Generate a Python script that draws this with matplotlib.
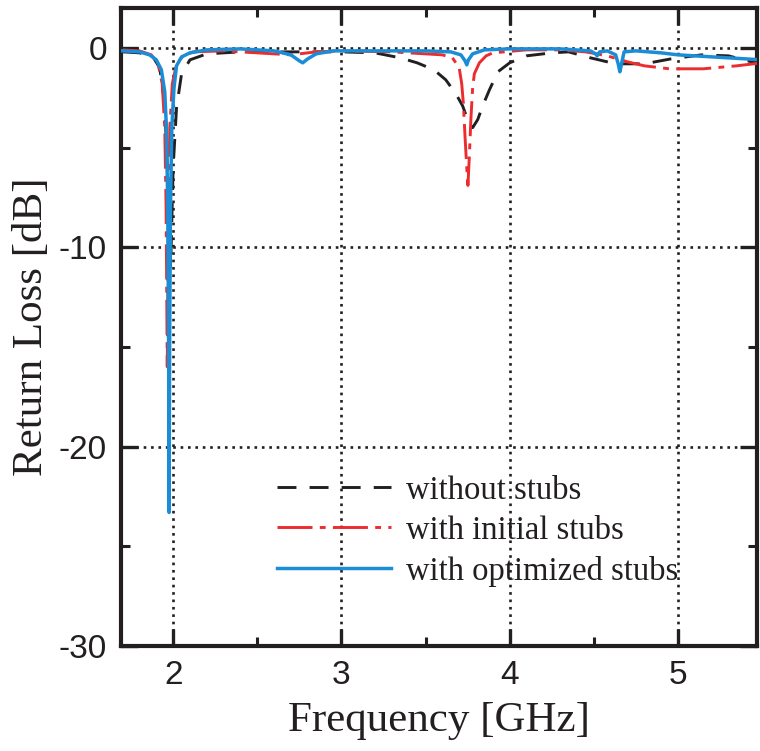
import matplotlib
matplotlib.use("Agg")
import matplotlib.pyplot as plt
from matplotlib.ticker import MultipleLocator

# Return loss (dB) versus frequency (GHz) for the three filter variants
freq_plain = [1.70, 1.80, 1.88, 1.92, 1.95, 1.97, 1.985, 2.00, 2.02, 2.05, 2.10, 2.20,
              2.40, 2.60, 2.80, 3.00, 3.20, 3.35, 3.45, 3.55, 3.62, 3.68, 3.72, 3.75,
              3.78, 3.81, 3.84, 3.88, 3.93, 4.00, 4.10, 4.25, 4.35, 4.48, 4.63, 4.80,
              4.96, 5.14, 5.30, 5.46, 5.50]
rl_plain = [-0.2, -0.25, -0.45, -1.0, -2.8, -7.0, -11.0, -6.0, -3.0, -1.3, -0.6, -0.3,
            -0.2, -0.2, -0.2, -0.2, -0.25, -0.5, -0.75, -1.1, -1.6, -2.3, -2.9, -3.6,
            -4.0, -3.6, -2.9, -2.1, -1.2, -0.75, -0.4, -0.25, -0.2, -0.5, -0.8, -0.8,
            -0.55, -0.35, -0.4, -0.75, -0.8]

freq_initial = [1.70, 1.80, 1.87, 1.91, 1.935, 1.95, 1.958, 1.965, 1.972, 1.98, 1.995,
                2.02, 2.06, 2.12, 2.30, 2.50, 2.70, 2.85, 3.00, 3.30, 3.50, 3.60, 3.66,
                3.70, 3.715, 3.725, 3.735, 3.745, 3.752, 3.76, 3.77, 3.78, 3.79, 3.82,
                3.86, 3.90, 4.10, 4.30, 4.45, 4.52, 4.60, 4.70, 4.80, 4.95, 5.15, 5.35,
                5.50]
rl_initial = [-0.1, -0.15, -0.35, -0.8, -1.8, -4.0, -8.0, -16.0, -8.0, -4.0, -1.8,
              -0.8, -0.4, -0.2, -0.15, -0.25, -0.35, -0.2, -0.15, -0.2, -0.3, -0.35, -0.5,
              -1.0, -1.8, -2.8, -4.5, -6.0, -6.9, -5.5, -3.5, -2.0, -1.3, -0.75,
              -0.4, -0.25, -0.1, -0.1, -0.2, -0.3, -0.45, -0.7, -0.9, -1.05, -1.05, -0.9,
              -0.75]

freq_optimized = [1.70, 1.80, 1.86, 1.90, 1.93, 1.95, 1.96, 1.968, 1.973, 1.976, 1.979,
                  1.984, 1.992, 2.005, 2.02, 2.05, 2.10, 2.20, 2.40, 2.60, 2.70, 2.75,
                  2.77, 2.80, 2.85, 2.95, 3.20, 3.50, 3.65, 3.71, 3.735, 3.745, 3.755,
                  3.78, 3.85, 4.00, 4.30, 4.48, 4.51, 4.52, 4.535, 4.58, 4.63, 4.645,
                  4.655, 4.665, 4.68, 4.75, 4.90, 5.00, 5.20, 5.50]
rl_optimized = [-0.15, -0.2, -0.35, -0.6, -1.1, -2.2, -4.0, -8.0, -15.0, -23.3, -15.0,
                -8.0, -4.0, -2.0, -0.9, -0.45, -0.25, -0.1, -0.05, -0.15, -0.35, -0.65,
                -0.75, -0.55, -0.3, -0.15, -0.15, -0.15, -0.2, -0.35, -0.65, -0.85, -0.6,
                -0.3, -0.1, -0.05, -0.05, -0.15, -0.3, -0.4, -0.2, -0.15, -0.35, -0.8,
                -1.2, -0.8, -0.2, -0.15, -0.25, -0.35, -0.45, -0.6]

labels = ["without stubs", "with initial stubs", "with optimized stubs"]
x_ticks = [2, 3, 4, 5]
y_ticks = [0, -10, -20, -30]

fig = plt.figure(figsize=(7.60, 7.51), dpi=100)
ax = fig.add_axes([121 / 760, 105 / 751, 636 / 760, 638 / 751])

ax.plot(freq_plain, rl_plain, color="#231f20", lw=2.1, dashes=(6.5, 4.5),
        label=labels[0], zorder=3)
ax.plot(freq_initial, rl_initial, color="#ec2c2e", lw=2.1, dashes=(12, 2.5, 2.0, 2.5),
        label=labels[1], zorder=4)
ax.plot(freq_optimized, rl_optimized, color="#1a8dd6", lw=2.5, label=labels[2],
        zorder=5)

ax.set_xlim(1.69, 5.47)
ax.set_ylim(-30, 2)
ax.set_xticks(x_ticks)
ax.set_yticks(y_ticks)
ax.set_xticklabels([str(v) for v in x_ticks])
ax.set_yticklabels([str(v) for v in y_ticks])
ax.xaxis.set_minor_locator(MultipleLocator(0.5))
ax.yaxis.set_minor_locator(MultipleLocator(5))

ax.grid(True, which="major", color="#231f20", lw=1.9, linestyle=(0, (1, 1.8)), zorder=1)

for side in ax.spines.values():
    side.set_linewidth(3.0)
    side.set_color("#231f20")

ax.tick_params(which="both", direction="in", top=True, right=True, color="#231f20")
ax.tick_params(which="major", length=12, width=2.4, pad=10,
               labelsize=24, labelcolor="#231f20")
ax.tick_params(which="minor", length=6.5, width=2.2)
for t in ax.get_xticklabels() + ax.get_yticklabels():
    t.set_family(["Liberation Sans Narrow", "Liberation Sans", "DejaVu Sans"])

serif = ["Liberation Serif", "DejaVu Serif"]
ax.set_xlabel("Frequency [GHz]", fontsize=31, family=serif, color="#231f20", labelpad=8)
ax.set_ylabel("Return Loss [dB]", fontsize=31, family=serif, color="#231f20", labelpad=6)

leg = ax.legend(loc="upper left", bbox_to_anchor=(0.245, 0.268), frameon=False,
                prop={"family": serif, "size": 23.5}, handlelength=3.5,
                handletextpad=0.45, labelspacing=0.3, borderpad=0, borderaxespad=0)
for t in leg.get_texts():
    t.set_color("#231f20")

fig.savefig("out.png", dpi=100)
